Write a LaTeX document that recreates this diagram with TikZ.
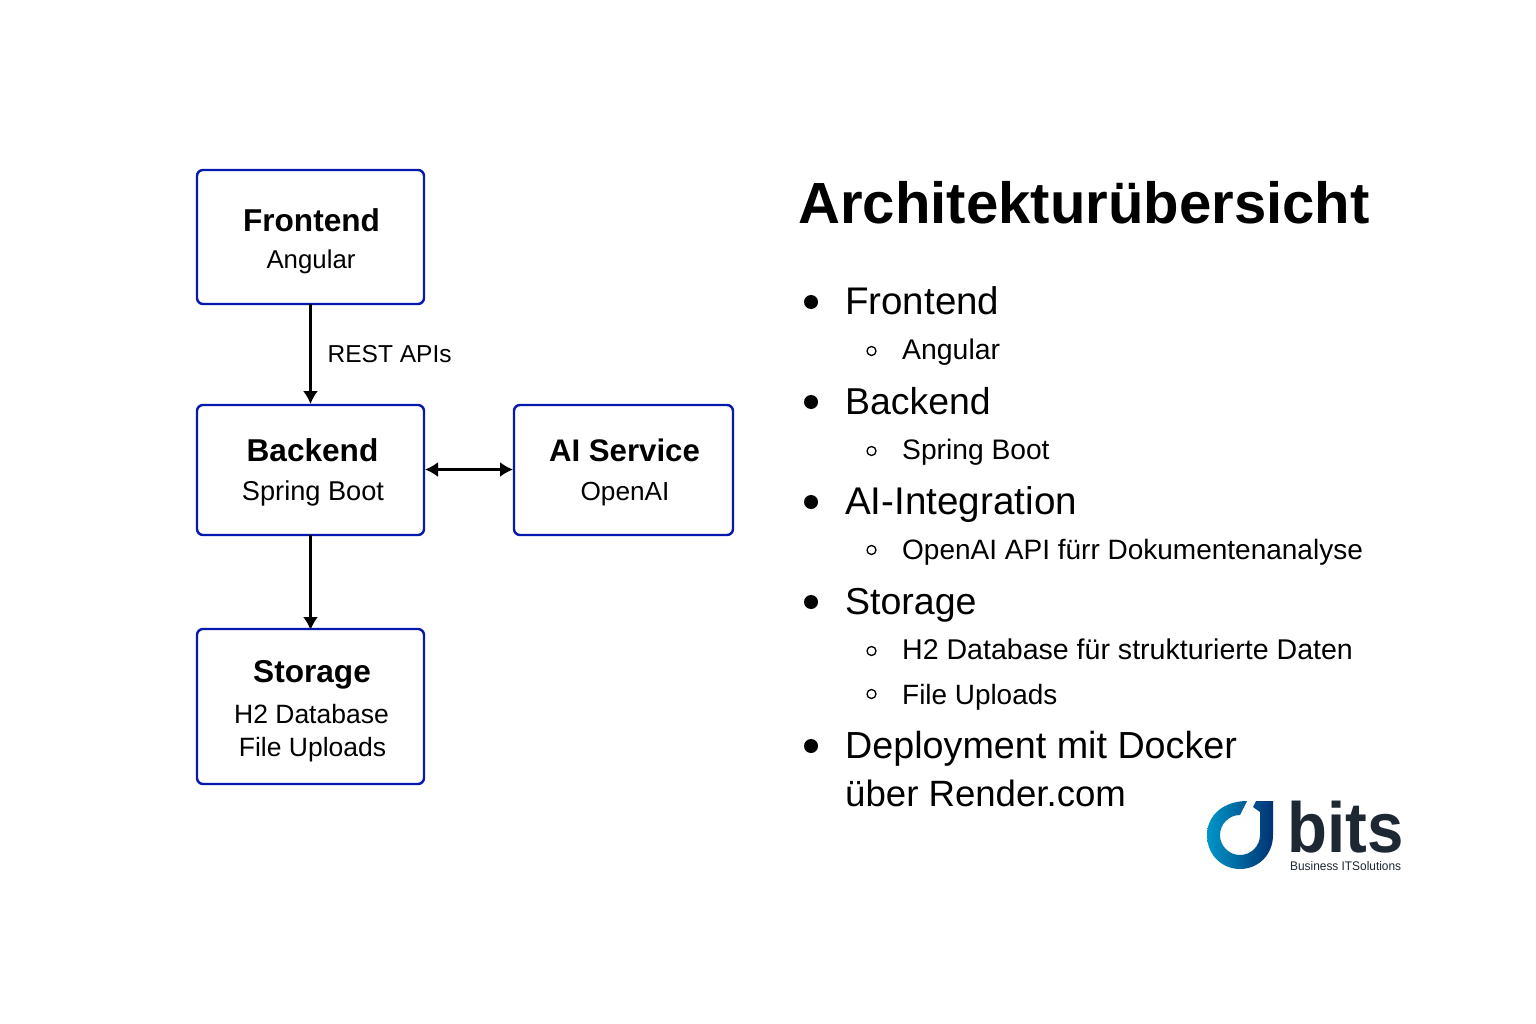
\documentclass[tikz,border=0pt]{standalone}
\usepackage{fontspec}
\setmainfont{Liberation Sans}
\usetikzlibrary{arrows.meta}
\definecolor{boxblue}{RGB}{5,25,175}
\definecolor{logodark}{RGB}{30,40,50}
\definecolor{logoA}{RGB}{0,150,200}
\definecolor{logoB}{RGB}{0,50,115}
\newcommand{\fsz}[1]{\fontsize{#1}{#1}\selectfont}
\tikzset{
  x=1pt,y=-1pt,
  archbox/.style={draw=boxblue,line width=2.4pt,rounded corners=6pt,fill=white},
  boxhead/.style={anchor=base,inner sep=0pt,font=\fsz{31.6}\bfseries,text=black},
  boxsub/.style={anchor=base,inner sep=0pt,font=\fsz{26.5},text=black},
  flow/.style={draw=black,line width=2.05pt,-{Latex[length=13pt,width=15pt]}},
  flowboth/.style={draw=black,line width=2.05pt,{Latex[length=13pt,width=15pt]}-{Latex[length=13pt,width=15pt]}},
  lvlone/.style={anchor=base west,inner sep=0pt,text=black},
  lvltwo/.style={anchor=base west,inner sep=0pt,text=black},
  dotone/.style={circle,fill=black,inner sep=0pt,minimum size=14pt},
  dottwo/.style={circle,draw=black,line width=1.3pt,fill=white,inner sep=0pt,minimum size=9pt},
}
\begin{document}
\begin{tikzpicture}
\useasboundingbox (0,0) rectangle (1536,1024);
\fill[white] (0,0) rectangle (1536,1024);
% boxes
\path[archbox] (197,170) rectangle (424,304);
\path[archbox] (197,405) rectangle (424,535);
\path[archbox] (514,405) rectangle (733,535);
\path[archbox] (197,629) rectangle (424,784);
\coordinate (fb) at (310.5,304);
\coordinate (bt) at (310.5,404);
\coordinate (bb) at (310.5,535);
\coordinate (st) at (310.5,630);
\coordinate (br) at (425,469.5);
\coordinate (al) at (513,469.5);
\draw[flow] (fb) -- (bt);
\draw[flow] (bb) -- (st);
\draw[flowboth] (br) -- (al);
\node[anchor=base west,inner sep=0pt,font=\fsz{24.5}] (rest) at (327.5,362) {REST APIs};
\node[boxhead] (t1) at (311.5,232) {Frontend};
\node[boxsub,font=\fsz{25.8}] (s1) at (311,269) {Angular};
\node[boxhead] (t2) at (312.5,461) {Backend};
\node[boxsub,font=\fsz{27.2}] (s2) at (313,500) {Spring Boot};
\node[boxhead,font=\fsz{31.2}\bfseries] (t3) at (624.5,461) {AI Service};
\node[boxsub,font=\fsz{26.2}] (s3) at (625,500) {OpenAI};
\node[boxhead] (t4) at (312,682) {Storage};
\node[boxsub] (s4) at (311.5,723) {H2 Database};
\node[boxsub] (s5) at (312.5,756) {File Uploads};
% title
\node[anchor=base west,inner sep=0pt,font=\fsz{58.1}\bfseries] (title) at (798,224) {Architekturübersicht};
% list
\node[dotone] (d1) at (811,302) {};
\node[lvlone,font=\fsz{38.5}] (l1) at (845,314) {Frontend};
\node[dottwo] (c1) at (871.5,351) {};
\node[lvltwo,font=\fsz{28.4}] (m1) at (902,359) {Angular};
\node[dotone] (d2) at (811,402) {};
\node[lvlone,font=\fsz{37.4}] (l2) at (845,414) {Backend};
\node[dottwo] (c2) at (871.5,451) {};
\node[lvltwo,font=\fsz{28.2}] (m2) at (902,459) {Spring Boot};
\node[dotone] (d3) at (811,502) {};
\node[lvlone,font=\fsz{38.6}] (l3) at (845,514) {AI-Integration};
\node[dottwo] (c3) at (871.5,550) {};
\node[lvltwo,font=\fsz{28}] (m3) at (902,559) {OpenAI API fürr Dokumentenanalyse};
\node[dotone] (d4) at (811,602) {};
\node[lvlone,font=\fsz{37.5}] (l4) at (845,614) {Storage};
\node[dottwo] (c4) at (871.5,651) {};
\node[lvltwo,font=\fsz{28.55}] (m4) at (902,659) {H2 Database für strukturierte Daten};
\node[dottwo] (c5) at (871.5,694) {};
\node[lvltwo,font=\fsz{27.9}] (m5) at (902,704) {File Uploads};
\node[dotone] (d5) at (811,746) {};
\node[lvlone,font=\fsz{37.7}] (l5) at (845,758) {Deployment mit Docker};
\node[lvlone,font=\fsz{36.6}] (l6) at (845,806) {über Render.com};
% logo
\path[left color=logoA,right color=logoB]
  (1247,801) .. controls (1224,801) and (1207,815) .. (1207,835)
  .. controls (1207,855) and (1222,869) .. (1240,869)
  .. controls (1258,869) and (1273,855) .. (1273,835)
  -- (1273,801) -- (1256,801) -- (1253,807) -- (1260,812) -- (1260,835)
  .. controls (1260,846) and (1251,855) .. (1240,855)
  .. controls (1229,855) and (1220,846) .. (1220,835)
  .. controls (1220,824) and (1229,815) .. (1240,815) -- cycle;
\node[anchor=base west,inner sep=0pt,font=\fsz{71}\bfseries,text=logodark] (bits) at (1287,852.5) {\scalebox{0.92}[1]{bits}};
\node[anchor=base west,inner sep=0pt,font=\fsz{12.5},text=logodark] (tag) at (1290,870) {\scalebox{0.95}[1]{Business ITSolutions}};
\end{tikzpicture}
\end{document}
